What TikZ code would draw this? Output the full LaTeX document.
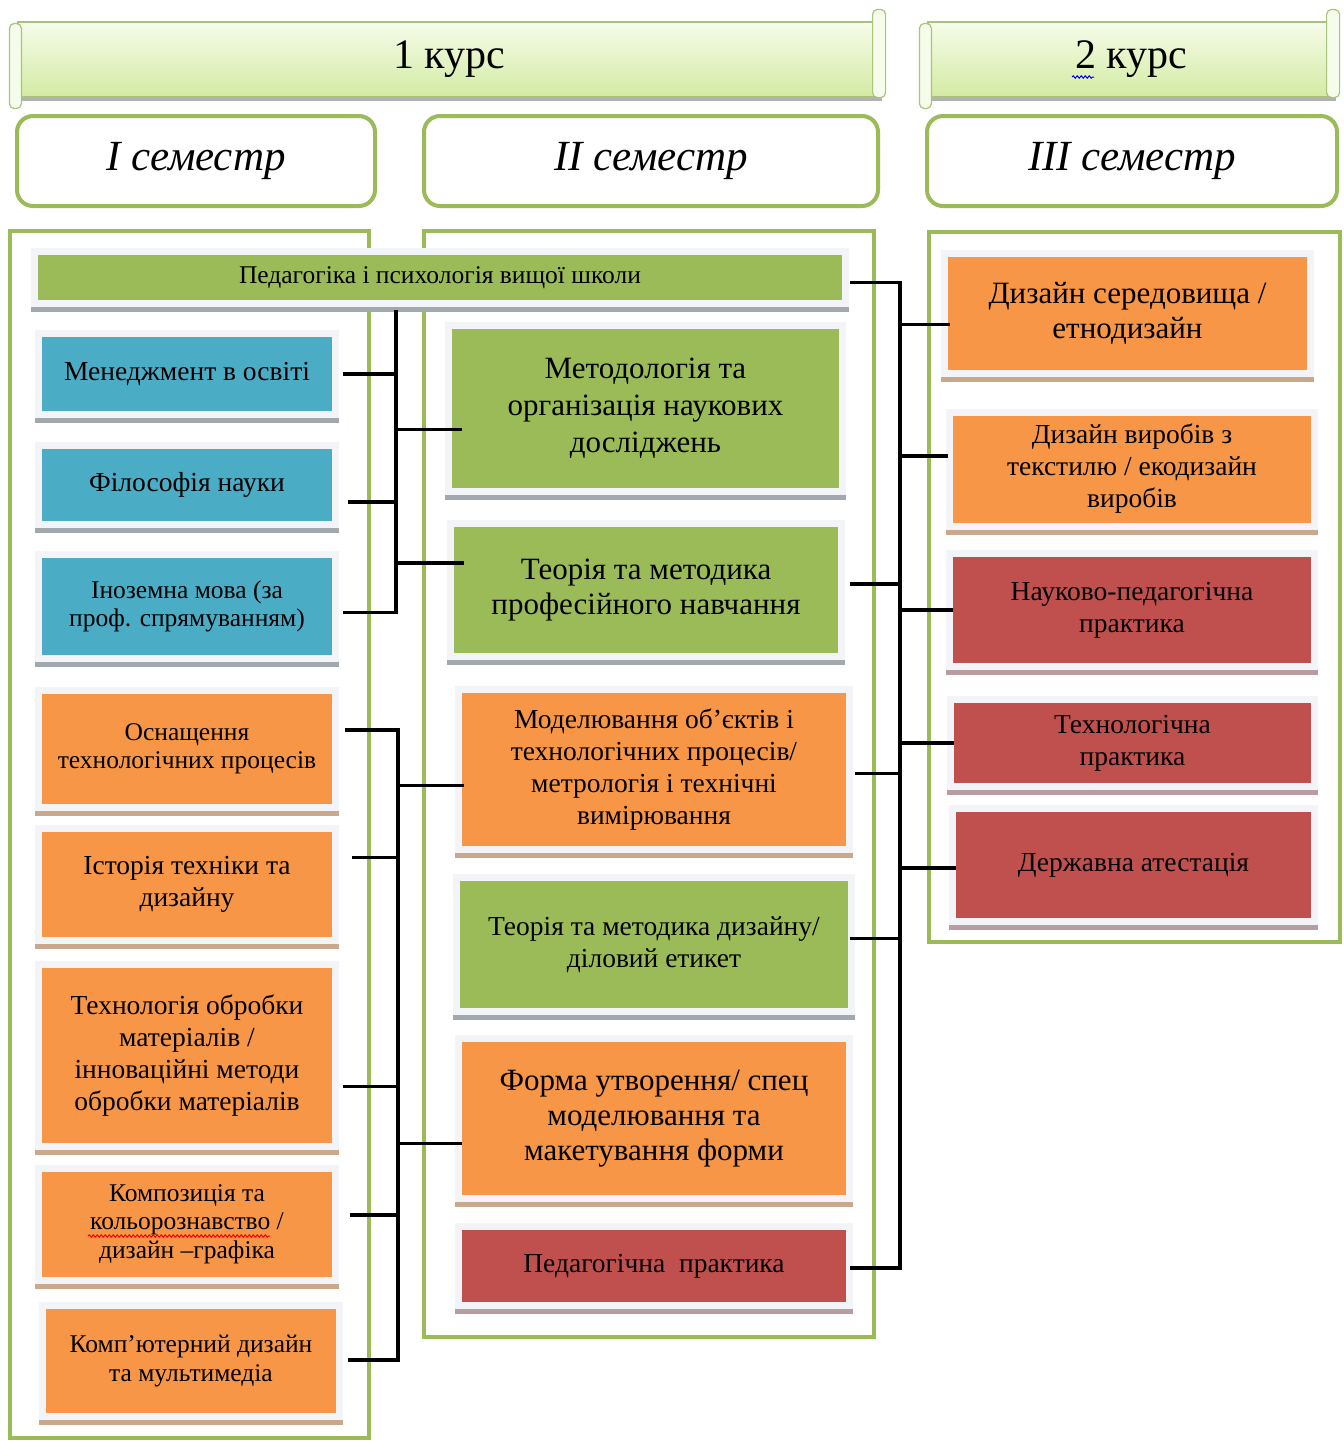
\documentclass[tikz,border=0pt]{standalone}
\usepackage{fontspec}
\setmainfont{Liberation Serif}
\usetikzlibrary{calc,decorations.pathmorphing}

\definecolor{olivegreen}{HTML}{9BBB59}
\definecolor{skyblue}{HTML}{4BACC6}
\definecolor{tangerine}{HTML}{F79646}
\definecolor{brick}{HTML}{C0504D}
\definecolor{cardwhite}{HTML}{F2F4F7}
\definecolor{bannertop}{HTML}{F6FCEA}
\definecolor{bannerbot}{HTML}{D3EBA2}
\definecolor{bannerline}{HTML}{A9C27C}
\definecolor{shadowgrey}{HTML}{A2A9AE}
\definecolor{shadowtan}{HTML}{C9A88C}
\definecolor{shadowrose}{HTML}{B79CA0}

\begin{document}
\begin{tikzpicture}[x=1pt, y=-1pt,
    course/.style={rectangle, draw=bannerline, line width=1.2pt, top color=bannertop, bottom color=bannerbot, minimum height=75pt, font=\fontsize{42}{48}\selectfont,
        preaction={draw=black!30, line width=3pt, transform canvas={yshift=-2pt}}},
    roll/.style={draw=bannerline, line width=1.2pt, fill=bannertop, rounded corners=5pt},
    sem/.style={rectangle, rounded corners=16pt, draw=olivegreen, line width=4pt, fill=white, minimum height=90pt, font=\fontsize{43}{48}\selectfont\itshape},
    column/.style={draw=olivegreen, line width=4pt},
    card/.style={rectangle, align=center, inner sep=0pt, text=black,
        preaction={draw=#1, line width=14pt, transform canvas={yshift=-5pt}},
        preaction={draw=cardwhite, line width=14pt}},
    blueBox/.style={card=shadowgrey, fill=skyblue},
    greenBox/.style={card=shadowgrey, fill=olivegreen},
    orangeBox/.style={card=shadowtan, fill=tangerine},
    redBox/.style={card=shadowrose, fill=brick},
    boxsize/.style 2 args={minimum width=#1, minimum height=#2},
    bigText/.style={font=\fontsize{31}{35}\selectfont},
    midText/.style={font=\fontsize{27.5}{32}\selectfont},
    smallText/.style={font=\fontsize{25.5}{28.5}\selectfont},
    squiggle/.style={#1, line width=1pt, decorate, decoration={snake, amplitude=1.2pt, segment length=4pt}},
    link/.style={line width=3.2pt, black}
]
\fill[white] (0,0) rectangle (1344,1441);
\useasboundingbox (0,0) rectangle (1344,1441);

% Course banners
\node[course, minimum width=862pt] (yr1) at (449,59.5) {1 курс};
\node[course, minimum width=406pt] (yr2) at (1131,59.5) {2 курс};
\draw[roll] ([xshift=-8pt,yshift=-2pt]yr1.north west) rectangle ([xshift=4pt,yshift=-11pt]yr1.south west);
\draw[roll] ([xshift=-8pt,yshift=12pt]yr1.north east) rectangle ([xshift=5pt]yr1.south east);
\draw[roll] ([xshift=-8pt,yshift=-2pt]yr2.north west) rectangle ([xshift=4pt,yshift=-11pt]yr2.south west);
\draw[roll] ([xshift=-8pt,yshift=12pt]yr2.north east) rectangle ([xshift=5pt]yr2.south east);

% Semesters
\node[sem, minimum width=358pt] (sem1) at (196,161) {I семестр};
\node[sem, minimum width=454pt] (sem2) at (651,161) {II семестр};
\node[sem, minimum width=410pt] (sem3) at (1132,161) {III семестр};

% Column frames
\draw[column] (10,231) rectangle (369,1438);
\draw[column] (424,231) rectangle (874,1337);
\draw[column] (929,232) rectangle (1340,942);

% 1st semester
\node[greenBox, boxsize={804pt}{45pt}, smallText] (ped) at (440,277.5) {Педагогіка і психологія вищої школи};
\node[blueBox, boxsize={290pt}{74pt}, midText] (mgmt) at (187,374) {Менеджмент в освіті};
\node[blueBox, boxsize={290pt}{72pt}, midText] (phil) at (187,485) {Філософія науки};
\node[blueBox, boxsize={290pt}{97pt}, smallText] (lang) at (187,606.5) {Іноземна мова (за\\проф. спрямуванням)};
\node[orangeBox, boxsize={290pt}{110pt}, smallText] (equip) at (187,749) {Оснащення\\технологічних процесів};
\node[orangeBox, boxsize={290pt}{105pt}, midText] (hist) at (187,884.5) {Історія техніки та\\дизайну};
\node[orangeBox, boxsize={290pt}{175pt}, midText] (tech) at (187,1055.5) {Технологія обробки\\матеріалів /\\інноваційні методи\\обробки матеріалів};
\node[orangeBox, boxsize={290pt}{105pt}, smallText] (comp) at (187,1224) {Композиція та\\кольорознавство /\\дизайн –графіка};
\node[orangeBox, boxsize={290pt}{104pt}, smallText] (cad) at (191,1361) {Комп’ютерний дизайн\\та мультимедіа};

% 2nd semester
\node[greenBox, boxsize={387pt}{159pt}, font=\fontsize{31}{37}\selectfont] (meth) at (645.5,408.5) {Методологія та\\організація наукових\\досліджень};
\node[greenBox, boxsize={384pt}{126pt}, bigText] (theo) at (646,590) {Теорія та методика\\професійного навчання};
\node[orangeBox, boxsize={384pt}{153pt}, midText] (model) at (654,769.5) {Моделювання об’єктів і\\технологічних процесів/\\метрологія і технічні\\вимірювання};
\node[greenBox, boxsize={388pt}{127pt}, midText] (dsgn) at (654,944.5) {Теорія та методика дизайну/\\діловий етикет};
\node[orangeBox, boxsize={384pt}{153pt}, bigText] (form) at (654,1118.5) {Форма утворення/ спец\\моделювання та\\макетування форми};
\node[redBox, boxsize={384pt}{72pt}, midText] (pract) at (654,1266) {Педагогічна \ практика};

% 3rd semester
\node[orangeBox, boxsize={359pt}{113pt}, bigText] (env) at (1127.5,313.5) {Дизайн середовища /\\етнодизайн};
\node[orangeBox, boxsize={358pt}{107pt}, midText] (prod) at (1132,469) {Дизайн виробів з\\текстилю / екодизайн\\виробів};
\node[redBox, boxsize={358pt}{106pt}, midText] (sci) at (1132,610) {Науково-педагогічна\\практика};
\node[redBox, boxsize={357pt}{80pt}, midText] (techpr) at (1132.5,743) {Технологічна\\практика};
\node[redBox, boxsize={355pt}{106pt}, midText] (state) at (1133.5,865) {Державна атестація};

% spell-check marks
\draw[squiggle=blue] (1072,77) -- (1094,77);
\draw[squiggle=red] (88,1236) -- (270,1236);

% Trunks of the brackets
\coordinate (jA) at (396,0);
\coordinate (jB) at (900,0);
\coordinate (jC) at (398,0);

% Bracket: general courses -> methodology, theory
\draw[link] ($(ped.south -| jA)+(0,10)$) -- ($(lang.east -| jA)+(0,6)$) -- ($(lang.east)+(11,6)$);
\draw[link] ($(mgmt.east)+(11,0)$) -- (mgmt.east -| jA);
\draw[link] ($(phil.east)+(16,17)$) -- ($(phil.east -| jA)+(0,17)$);
\draw[link] ($(meth.west -| jA)+(0,21)$) -- ($(meth.west)+(10,21)$);
\draw[link] ($(theo.west -| jA)+(0,-27)$) -- ($(theo.west)+(10,-27)$);

% Bracket: design courses -> modelling, form
\draw[link] ($(equip.east)+(13,-19)$) -- ($(equip.east -| jC)+(0,-19)$) -- ($(cad.east -| jC)+(0,-1)$) -- ($(cad.east)+(12,-1)$);
\draw[link] ($(hist.east)+(20,-27)$) -- ($(hist.east -| jC)+(0,-27)$);
\draw[link] ($(tech.east)+(11,31)$) -- ($(tech.east -| jC)+(0,31)$);
\draw[link] ($(comp.east)+(18,-9)$) -- ($(comp.east -| jC)+(0,-9)$);
\draw[link] ($(model.west -| jC)+(0,16)$) -- ($(model.west)+(2,16)$);
\draw[link] ($(form.west -| jC)+(0,25)$) -- ($(form.west)+(0,25)$);

% Bracket: 2nd semester -> 3rd semester
\draw[link] ($(ped.east)+(8,5)$) -- ($(ped.east -| jB)+(0,5)$) -- ($(pract.east -| jB)+(0,2)$) -- ($(pract.east)+(4,2)$);
\draw[link] ($(theo.east)+(12,-6)$) -- ($(theo.east -| jB)+(0,-6)$);
\draw[link] ($(model.east)+(9,4)$) -- ($(model.east -| jB)+(0,4)$);
\draw[link] ($(dsgn.east)+(2,-6)$) -- ($(dsgn.east -| jB)+(0,-6)$);
\draw[link] ($(env.west -| jB)+(0,11)$) -- ($(env.west)+(2,11)$);
\draw[link] ($(prod.west -| jB)+(0,-13)$) -- ($(prod.west)+(-5,-13)$);
\draw[link] (sci.west -| jB) -- (sci.west);
\draw[link] (techpr.west -| jB) -- (techpr.west);
\draw[link] ($(state.west -| jB)+(0,3)$) -- ($(state.west)+(0,3)$);

\end{tikzpicture}
\end{document}
